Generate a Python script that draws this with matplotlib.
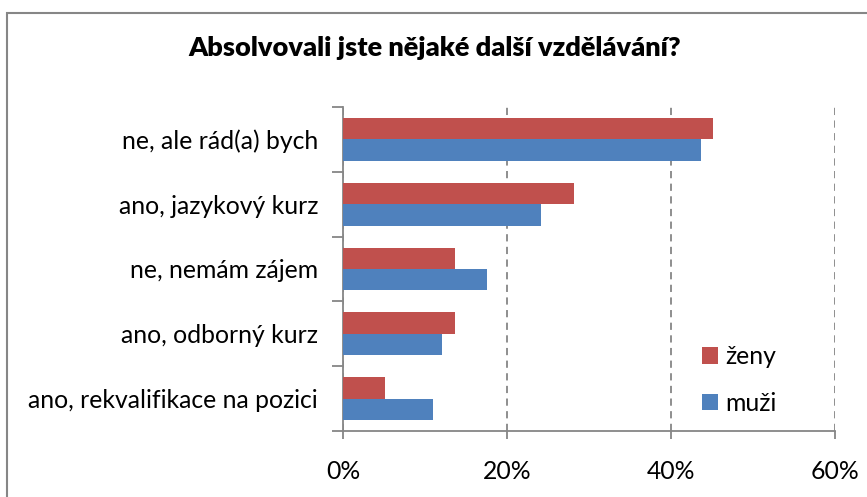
import matplotlib
matplotlib.use("Agg")
import matplotlib.pyplot as plt
from matplotlib.patches import Rectangle
from matplotlib.ticker import PercentFormatter

categories = ["ne, ale rád(a) bych", "ano, jazykový kurz", "ne, nemám zájem",
              "ano, odborný kurz", "ano, rekvalifikace na pozici"]
zeny = [45.1, 28.2, 13.7, 13.7, 5.1]
muzi = [43.6, 24.2, 17.6, 12.1, 11.0]
xticks = [0, 20, 40, 60]

red = "#C0504D"
blue = "#4F81BD"
axis_gray = "#868686"

plt.rcParams['font.family'] = ['Lato', 'DejaVu Sans']

W, H = 867, 497
fig = plt.figure(figsize=(W / 100, H / 100), dpi=100)

# outer chart frame (runs off right and bottom edge)
fig.patches.append(Rectangle((7 / W, -0.1), 1.2, (H - 13) / H + 0.1,
                             transform=fig.transFigure, fill=False,
                             edgecolor=axis_gray, linewidth=1.5))

ax = fig.add_axes([343 / W, (H - 431) / H, (835 - 343) / W, (431 - 107) / H])

h = 0.33
pos = list(range(len(categories)))
ax.barh([p - h / 2 for p in pos], zeny, height=h, color=red, label="ženy", zorder=3)
ax.barh([p + h / 2 for p in pos], muzi, height=h, color=blue, label="muži", zorder=3)

ax.set_xlim(0, 60)
ax.set_ylim(len(categories) - 0.5, -0.5)
ax.set_xticks(xticks)
ax.xaxis.set_major_formatter(PercentFormatter(decimals=0))
ax.set_yticks([p - 0.5 for p in pos] + [len(categories) - 0.5])
ax.set_yticklabels([])
ax.set_yticks(pos, minor=True)
ax.set_yticklabels(categories, minor=True)
ax.tick_params(axis="y", which="minor", length=0, pad=18, labelsize=17.8)
ax.tick_params(axis="y", which="major", length=8, color=axis_gray, width=1.3)
ax.tick_params(axis="x", length=6, color=axis_gray, width=1.3, labelsize=17.8, pad=15)

ax.grid(axis="x", linestyle=(0, (4, 3)), color=axis_gray, linewidth=1.3, zorder=0)
for s in ["top", "right"]:
    ax.spines[s].set_visible(False)
for s in ["left", "bottom"]:
    ax.spines[s].set_color(axis_gray)
    ax.spines[s].set_linewidth(1.3)

fig.text(435 / W, 1 - 48 / H, "Absolvovali jste nějaké další vzdělávání?",
         ha="center", va="center", fontsize=19.5, fontweight="heavy")

ax.legend(loc="upper left", bbox_to_anchor=(680 / W, 1 - 323 / H),
          bbox_transform=fig.transFigure, frameon=False, fontsize=17.8,
          handlelength=0.65, handleheight=0.65, handletextpad=0.3, labelspacing=0.95)

fig.savefig("out.png", dpi=100)
